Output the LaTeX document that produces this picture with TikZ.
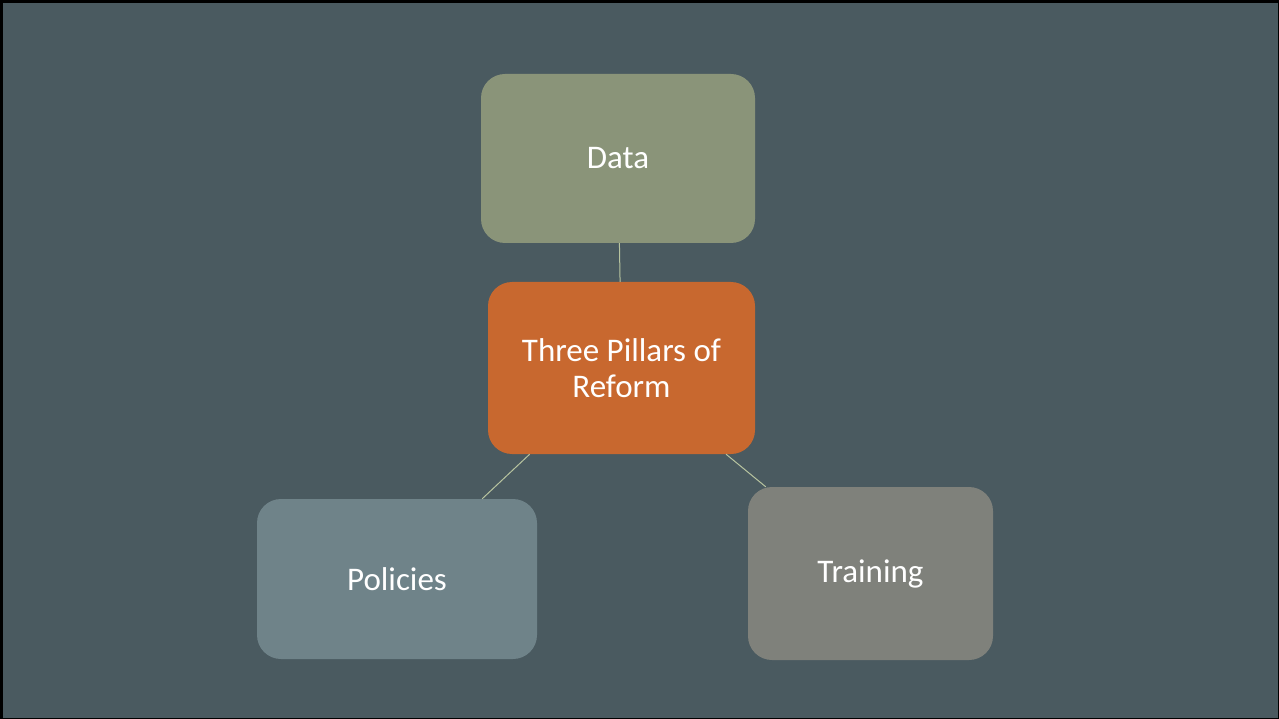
\documentclass[tikz,border=0pt]{standalone}
\usepackage{fontspec}
\setmainfont{Carlito}
\definecolor{bgc}{HTML}{4A5A60}
\definecolor{datac}{HTML}{8A9479}
\definecolor{centc}{HTML}{C8682F}
\definecolor{polc}{HTML}{6F8389}
\definecolor{trc}{HTML}{7F817B}
\definecolor{linec}{HTML}{B8C4A0}
\begin{document}
\begin{tikzpicture}[x=1pt,y=-1pt,
  pillar/.style={rectangle, rounded corners=24pt, text=white, align=center,
    font=\fontsize{33}{36}\selectfont, inner sep=0pt},
  link/.style={draw=linec, line width=1pt}]
\useasboundingbox (0,0) rectangle (1279,719);
\fill[black] (0,0) rectangle (1279,719);
\fill[bgc] (3,3) rectangle (1278,718);
\node[pillar, fill=datac, minimum width=274pt, minimum height=169pt] (data) at (618,158.5) {Data};
\node[pillar, fill=centc, minimum width=267pt, minimum height=172pt] (cent) at (621.5,368) {Three Pillars of\\Reform};
\node[pillar, fill=polc, minimum width=280pt, minimum height=160pt] (pol) at (397,579) {Policies};
\node[pillar, fill=trc, minimum width=245pt, minimum height=173pt] (tr) at (870.5,573.5) {Training};
\draw[link] (data) -- (cent);
\draw[link] (cent) -- (pol);
\draw[link] (cent) -- (tr);
\end{tikzpicture}
\end{document}
